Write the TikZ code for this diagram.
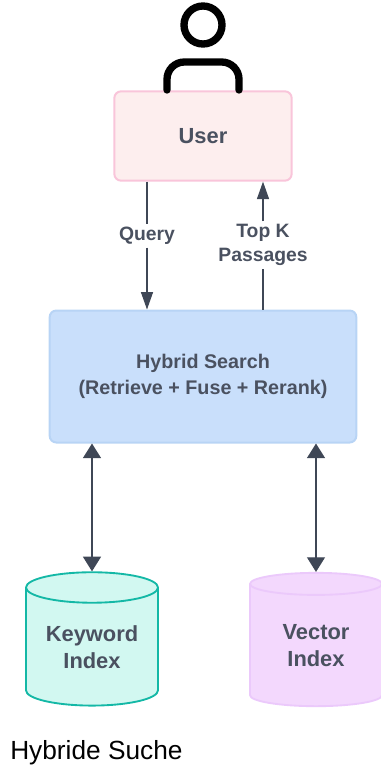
\documentclass[tikz,border=0pt]{standalone}
\usepackage{fontspec}
\setmainfont{Liberation Sans}
\usepackage{xcolor}
\usetikzlibrary{arrows.meta,positioning,shapes.geometric,calc}

\definecolor{inkgray}{HTML}{3F4756}
\definecolor{textgray}{HTML}{4A5160}
\definecolor{userfill}{HTML}{FDEEEE}
\definecolor{userline}{HTML}{F9C5DA}
\definecolor{hybridfill}{HTML}{C9DFFB}
\definecolor{hybridline}{HTML}{B8D4F5}
\definecolor{keywordfill}{HTML}{D2F8F1}
\definecolor{keywordline}{HTML}{14B8A6}
\definecolor{vectorfill}{HTML}{F3D8FD}
\definecolor{vectorline}{HTML}{EBC9FB}

\tikzset{
  box/.style={draw,line width=1.5pt,rounded corners=5pt,align=center,text=textgray,font=\fontsize{14.8}{19}\selectfont\bfseries},
  dbase/.style={draw,line width=1.4pt,cylinder,shape border rotate=90,aspect=0.33,minimum width=99pt,minimum height=100pt,
    cylinder uses custom fill,inner sep=0pt,align=center,text=textgray,font=\fontsize{16.4}{20.5}\selectfont\bfseries},
  edgelabel/.style={align=center,inner sep=2pt,text=textgray,font=\fontsize{14.5}{18}\selectfont\bfseries},
  link/.style={draw=inkgray,line width=0.8pt},
  tip/.style={-{Triangle[length=13pt,width=9pt]}},
  bothtips/.style={line width=1.1pt,{Triangle[length=11pt,width=13.5pt]}-{Triangle[length=11pt,width=13.5pt]}}
}

\begin{document}
\begin{tikzpicture}[x=0.75pt,y=-0.75pt]
    \useasboundingbox (0,0) rectangle (381,771);

    % Boxes
    \node[box,draw=userline,fill=userfill,minimum width=133pt,minimum height=67pt,font=\fontsize{16.4}{20}\selectfont\bfseries] (user) at (203,136) {User};
    \node[box,draw=hybridline,fill=hybridfill,minimum width=230pt,minimum height=99pt] (hybrid) at (203,376.5) {Hybrid Search\\(Retrieve + Fuse + Rerank)};

    % Person on top of the user box
    \draw[line width=5.5pt,black] (203,25) circle (19);
    \draw[line width=5.5pt,black,line cap=round,rounded corners=13pt] (167,90) -- (167,62) -- (239,62) -- (239,90);

    % Indexes
    \node[dbase,draw=keywordline,cylinder body fill=keywordfill,cylinder end fill=keywordfill] (keyword) at (92,647) {Keyword\\Index};
    \node[dbase,draw=vectorline,cylinder body fill=vectorfill,cylinder end fill=vectorfill] (vector) at (316,645.5) {Vector\\Index};

    % Labels on the connectors
    \node[edgelabel] (query) at (147,236) {Query};
    \node[edgelabel] (topk) at (263,245) {Top K\\Passages};

    % Connectors
    \draw[link] (user.south -| query) -- (query);
    \draw[link,tip] (query) -- (hybrid.north -| query);
    \draw[link] (hybrid.north -| topk) -- (topk);
    \draw[link,tip] (topk) -- (user.south -| topk);
    \draw[link,bothtips] (hybrid.south -| keyword.north) -- (keyword.north);
    \draw[link,bothtips] (hybrid.south -| vector.north) -- (vector.north);

    % Caption
    \node[anchor=west,inner sep=0pt,font=\fontsize{19.7}{24}\selectfont,text=black] (caption) at (10,753) {Hybride Suche};
  \end{tikzpicture}
\end{document}
